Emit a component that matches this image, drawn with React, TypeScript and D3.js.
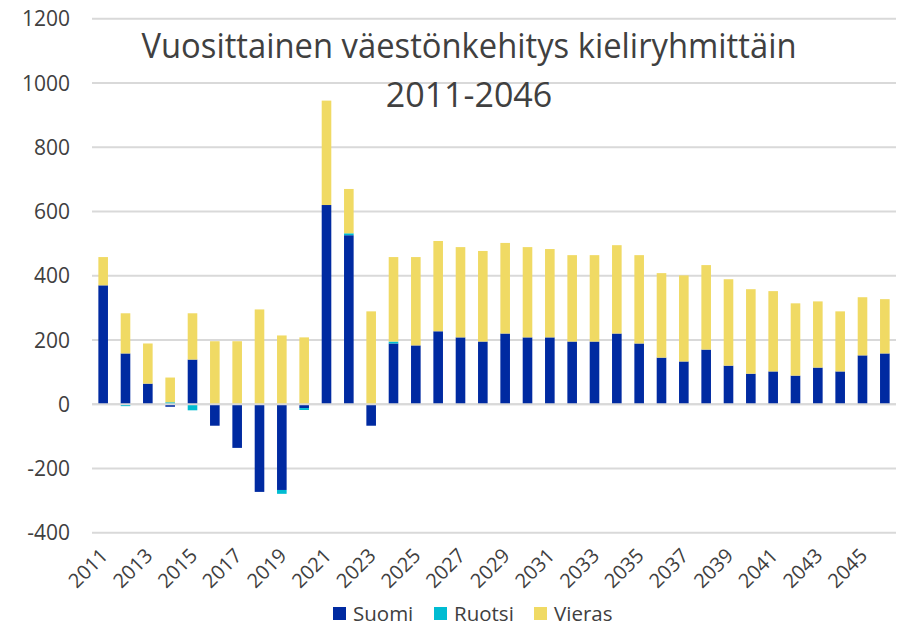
import React from "react";
import * as d3 from "d3";

const years: number[] = [
  2011, 2012, 2013, 2014, 2015, 2016, 2017, 2018, 2019, 2020, 2021, 2022,
  2023, 2024, 2025, 2026, 2027, 2028, 2029, 2030, 2031, 2032, 2033, 2034,
  2035, 2036, 2037, 2038, 2039, 2040, 2041, 2042, 2043, 2044, 2045, 2046,
];
const suomi: number[] = [
  370, 158, 64, -8, 139, -67, -136, -273, -267, -12, 620, 526,
  -67, 189, 183, 227, 208, 195, 220, 208, 208, 195, 195, 220,
  189, 145, 133, 170, 120, 95, 102, 89, 114, 102, 152, 158,
];
const ruotsi: number[] = [
  0, -6, 0, 6, -19, 0, 0, 0, -12, -6, 0, 6,
  0, 6, 0, 0, 0, 0, 0, 0, 0, 0, 0, 0,
  0, 0, 0, 0, 0, 0, 0, 0, 0, 0, 0, 0,
];
const vieras: number[] = [
  88, 125, 125, 77, 144, 196, 196, 295, 214, 208, 325, 138,
  289, 263, 275, 281, 281, 282, 282, 281, 275, 269, 269, 275,
  275, 263, 268, 263, 269, 263, 250, 225, 206, 187, 181, 169,
];
const seriesNames: string[] = ["Suomi", "Ruotsi", "Vieras"];
const seriesColors: string[] = ["#002aa1", "#00bcd2", "#f0da64"];
const yTicks: number[] = [-400, -200, 0, 200, 400, 600, 800, 1000, 1200];
const titleLines: string[] = ["Vuosittainen väestönkehitys kieliryhmittäin", "2011-2046"];

const W = 904;
const H = 628;
const FONT = "'Open Sans', 'Liberation Sans', sans-serif";
const TEXT = "#404040";

export default function App() {
  const rows = years.map((y, i) => ({
    year: String(y),
    Suomi: suomi[i],
    Ruotsi: ruotsi[i],
    Vieras: vieras[i],
  }));
  const x = d3
    .scaleBand<string>()
    .domain(rows.map((r) => r.year))
    .range([92, 896])
    .paddingInner(0.57)
    .paddingOuter(0.285);
  const y = d3.scaleLinear().domain([-400, 1200]).range([532.7, 18.7]);
  const stack = d3
    .stack<any>()
    .keys(seriesNames)
    .offset(d3.stackOffsetDiverging);
  const layers = stack(rows);

  return (
    <svg
      width={W}
      height={H}
      style={{ position: "absolute", left: 0, top: 0, background: "#fff" }}
      fontFamily={FONT}
    >
      <rect x={0} y={0} width={W} height={H} fill="#fff" />
      {yTicks.map((t) => (
        <g key={t}>
          <line
            x1={92}
            x2={896}
            y1={y(t)}
            y2={y(t)}
            stroke="#d9d9d9"
            strokeWidth={2}
          />
          <text
            x={70}
            y={y(t)}
            dy="0.36em"
            textAnchor="end"
            fontSize={21}
            fill={TEXT}
          >
            {t}
          </text>
        </g>
      ))}
      {layers.map((layer, li) => (
        <g key={layer.key} fill={seriesColors[li]}>
          {layer.map((d, i) => {
            const y0 = y(d[0]);
            const y1 = y(d[1]);
            const h = Math.abs(y0 - y1);
            if (h < 0.01) return null;
            return (
              <rect
                key={i}
                x={x(d.data.year)!}
                y={Math.min(y0, y1)}
                width={x.bandwidth()}
                height={h}
              />
            );
          })}
        </g>
      ))}
      <line x1={92} x2={896} y1={y(0)} y2={y(0)} stroke="#d9d9d9" strokeWidth={2} />
      {years
        .filter((_, i) => i % 2 === 0)
        .map((yr) => {
          const cx = x(String(yr))! + x.bandwidth() / 2;
          return (
            <text
              key={yr}
              transform={`translate(${cx + 6},${557}) rotate(-45)`}
              textAnchor="end"
              fontSize={20}
              fill={TEXT}
            >
              {yr}
            </text>
          );
        })}
      <text
        x={469}
        y={58}
        textAnchor="middle"
        fontSize={34}
        fill={TEXT}
        textLength={655}
        lengthAdjust="spacingAndGlyphs"
      >
        {titleLines[0]}
      </text>
      <text x={469} y={107} textAnchor="middle" fontSize={34} fill={TEXT}>
        {titleLines[1]}
      </text>
      {seriesNames.map((name, i) => {
        const lx = [333, 434, 534][i];
        return (
          <g key={name}>
            <rect x={lx} y={607} width={13} height={13} fill={seriesColors[i]} />
            <text x={lx + 20} y={621} fontSize={20.5} fill={TEXT}>
              {name}
            </text>
          </g>
        );
      })}
    </svg>
  );
}
